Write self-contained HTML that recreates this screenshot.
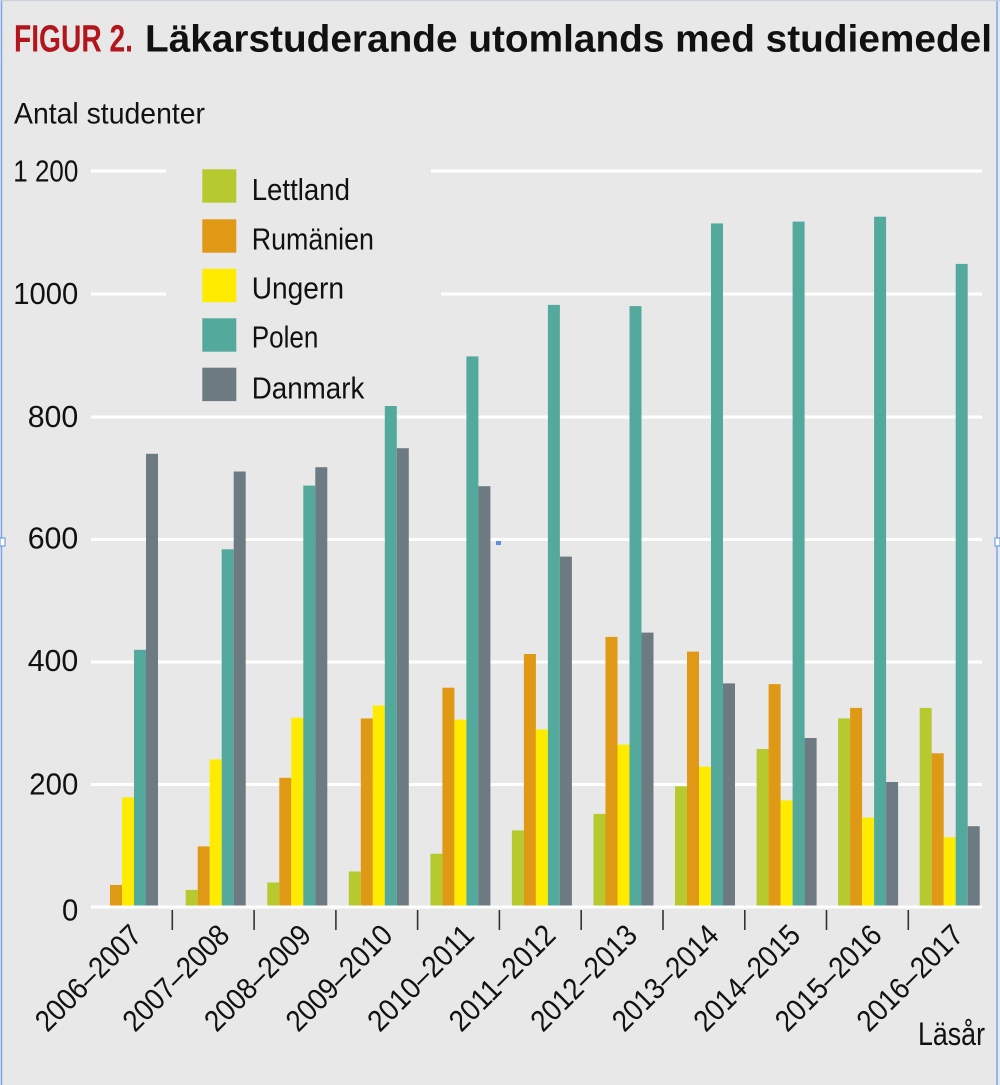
<!DOCTYPE html>
<html>
<head>
<meta charset="utf-8">
<style>
  html,body{margin:0;padding:0;background:#e8e8e8;}
  svg{display:block;}
  text{font-family:"Liberation Sans",sans-serif;fill:#111;}
</style>
</head>
<body>
<svg width="1000" height="1085" viewBox="0 0 1000 1085" xmlns="http://www.w3.org/2000/svg">
  <rect x="0" y="0" width="1000" height="1085" fill="#e8e8e8"/>

  <!-- selection frame -->
  <line x1="1.5" y1="0" x2="1.5" y2="1085" stroke="#7aa6ee" stroke-width="1.5"/>
  <line x1="997" y1="0" x2="997" y2="1085" stroke="#7aa6ee" stroke-width="1.5"/>
  <line x1="0" y1="0.7" x2="1000" y2="0.7" stroke="#c9cfda" stroke-width="1.2"/>
  <rect x="0" y="538" width="5" height="8" fill="#fff" stroke="#5b8fe6" stroke-width="1"/>
  <rect x="995" y="538" width="5" height="8" fill="#fff" stroke="#5b8fe6" stroke-width="1"/>
  <rect x="496" y="540" width="5" height="5" fill="#5b8fe6"/>

  <!-- title -->
  <text x="14" y="51.7" font-size="38" font-weight="bold" style="fill:#b3151d" textLength="119" lengthAdjust="spacingAndGlyphs">FIGUR 2.</text>
  <text x="145" y="51.7" font-size="38" font-weight="bold" textLength="847" lengthAdjust="spacingAndGlyphs">Läkarstuderande utomlands med studiemedel</text>

  <text x="14" y="123.3" font-size="30" textLength="191" lengthAdjust="spacingAndGlyphs">Antal studenter</text>

  <!-- gridlines -->
  <g stroke="#ffffff" stroke-width="3">
    <line x1="91" y1="171" x2="166" y2="171"/>
    <line x1="431" y1="171" x2="982" y2="171"/>
    <line x1="91" y1="294" x2="166" y2="294"/>
    <line x1="441" y1="294" x2="982" y2="294"/>
    <line x1="91" y1="417" x2="982" y2="417"/>
    <line x1="91" y1="539.5" x2="982" y2="539.5"/>
    <line x1="91" y1="662" x2="982" y2="662"/>
    <line x1="91" y1="784.5" x2="982" y2="784.5"/>
  </g>

  <!-- y labels -->
  <g font-size="31" text-anchor="end">
    <text x="78.3" y="181.7" textLength="65" lengthAdjust="spacingAndGlyphs">1 200</text>
    <text x="78.3" y="304" textLength="65" lengthAdjust="spacingAndGlyphs">1000</text>
    <text x="78.3" y="427" textLength="50.6" lengthAdjust="spacingAndGlyphs">800</text>
    <text x="78.3" y="548.3" textLength="50.6" lengthAdjust="spacingAndGlyphs">600</text>
    <text x="78.3" y="671" textLength="50.6" lengthAdjust="spacingAndGlyphs">400</text>
    <text x="78.3" y="794.5" textLength="49" lengthAdjust="spacingAndGlyphs">200</text>
    <text x="78.3" y="920.7" textLength="16.3" lengthAdjust="spacingAndGlyphs">0</text>
  </g>

  <!-- legend -->
  <g>
    <rect x="202.3" y="169.3" width="34" height="33.4" fill="#b6c92f"/>
    <rect x="202.3" y="219.3" width="34" height="33.4" fill="#e09914"/>
    <rect x="202.3" y="268.8" width="34" height="33.4" fill="#feeb00"/>
    <rect x="202.3" y="318.3" width="34" height="33.4" fill="#53a99c"/>
    <rect x="202.3" y="367.7" width="34" height="33.4" fill="#6e7a81"/>
    <g font-size="31">
      <text x="251.7" y="200" textLength="98.3" lengthAdjust="spacingAndGlyphs">Lettland</text>
      <text x="251.7" y="249.3" textLength="122.3" lengthAdjust="spacingAndGlyphs">Rumänien</text>
      <text x="251.7" y="298.5" textLength="92.3" lengthAdjust="spacingAndGlyphs">Ungern</text>
      <text x="251.7" y="347.5" textLength="66.7" lengthAdjust="spacingAndGlyphs">Polen</text>
      <text x="251.7" y="398.3" textLength="112.7" lengthAdjust="spacingAndGlyphs">Danmark</text>
    </g>
  </g>

  <!-- bars -->
  <g>
    <!-- g1 -->
    <g transform="translate(98,0)">
      <rect x="12" y="885" width="12" height="21" fill="#e09914"/>
      <rect x="24" y="797.4" width="12" height="108.6" fill="#feeb00"/>
      <rect x="36" y="649.8" width="12" height="256.2" fill="#53a99c"/>
      <rect x="48" y="453.8" width="12" height="452.2" fill="#6e7a81"/>
    </g>
    <!-- g2 -->
    <g transform="translate(185.7,0)">
      <rect x="0" y="889.9" width="12" height="16.1" fill="#b6c92f"/>
      <rect x="12" y="846.4" width="12" height="59.6" fill="#e09914"/>
      <rect x="24" y="759.4" width="12" height="146.6" fill="#feeb00"/>
      <rect x="36" y="549.3" width="12" height="356.7" fill="#53a99c"/>
      <rect x="48" y="471.5" width="12" height="434.5" fill="#6e7a81"/>
    </g>
    <!-- g3 -->
    <g transform="translate(267.3,0)">
      <rect x="0" y="882.5" width="12" height="23.5" fill="#b6c92f"/>
      <rect x="12" y="777.8" width="12" height="128.2" fill="#e09914"/>
      <rect x="24" y="717.7" width="12" height="188.3" fill="#feeb00"/>
      <rect x="36" y="485.6" width="12" height="420.4" fill="#53a99c"/>
      <rect x="48" y="467.2" width="12" height="438.8" fill="#6e7a81"/>
    </g>
    <!-- g4 -->
    <g transform="translate(348.8,0)">
      <rect x="0" y="871.5" width="12" height="34.5" fill="#b6c92f"/>
      <rect x="12" y="718.4" width="12" height="187.6" fill="#e09914"/>
      <rect x="24" y="705.5" width="12" height="200.5" fill="#feeb00"/>
      <rect x="36" y="406" width="12" height="500" fill="#53a99c"/>
      <rect x="48" y="448.2" width="12" height="457.8" fill="#6e7a81"/>
    </g>
    <!-- g5 -->
    <g transform="translate(430.4,0)">
      <rect x="0" y="853.7" width="12" height="52.3" fill="#b6c92f"/>
      <rect x="12" y="687.7" width="12" height="218.3" fill="#e09914"/>
      <rect x="24" y="719.6" width="12" height="186.4" fill="#feeb00"/>
      <rect x="36" y="356.4" width="12" height="549.6" fill="#53a99c"/>
      <rect x="48" y="486.2" width="12" height="419.8" fill="#6e7a81"/>
    </g>
    <!-- g6 -->
    <g transform="translate(511.9,0)">
      <rect x="0" y="830.4" width="12" height="75.6" fill="#b6c92f"/>
      <rect x="12" y="654" width="12" height="252" fill="#e09914"/>
      <rect x="24" y="729.4" width="12" height="176.6" fill="#feeb00"/>
      <rect x="36" y="304.9" width="12" height="601.1" fill="#53a99c"/>
      <rect x="48" y="556.6" width="12" height="349.4" fill="#6e7a81"/>
    </g>
    <!-- g7 -->
    <g transform="translate(593.5,0)">
      <rect x="0" y="813.9" width="12" height="92.1" fill="#b6c92f"/>
      <rect x="12" y="636.9" width="12" height="269.1" fill="#e09914"/>
      <rect x="24" y="744.7" width="12" height="161.3" fill="#feeb00"/>
      <rect x="36" y="306.1" width="12" height="599.9" fill="#53a99c"/>
      <rect x="48" y="632.6" width="12" height="273.4" fill="#6e7a81"/>
    </g>
    <!-- g8 -->
    <g transform="translate(675,0)">
      <rect x="0" y="786.3" width="12" height="119.7" fill="#b6c92f"/>
      <rect x="12" y="651.6" width="12" height="254.4" fill="#e09914"/>
      <rect x="24" y="766.7" width="12" height="139.3" fill="#feeb00"/>
      <rect x="36" y="223.4" width="12" height="682.6" fill="#53a99c"/>
      <rect x="48" y="683.4" width="12" height="222.6" fill="#6e7a81"/>
    </g>
    <!-- g9 -->
    <g transform="translate(756.6,0)">
      <rect x="0" y="749" width="12" height="157" fill="#b6c92f"/>
      <rect x="12" y="684.1" width="12" height="221.9" fill="#e09914"/>
      <rect x="24" y="800.4" width="12" height="105.6" fill="#feeb00"/>
      <rect x="36" y="221.6" width="12" height="684.4" fill="#53a99c"/>
      <rect x="48" y="738" width="12" height="168" fill="#6e7a81"/>
    </g>
    <!-- g10 -->
    <g transform="translate(838.1,0)">
      <rect x="0" y="718.4" width="12" height="187.6" fill="#b6c92f"/>
      <rect x="12" y="707.9" width="12" height="198.1" fill="#e09914"/>
      <rect x="24" y="817.6" width="12" height="88.4" fill="#feeb00"/>
      <rect x="36" y="216.7" width="12" height="689.3" fill="#53a99c"/>
      <rect x="48" y="782" width="12" height="124" fill="#6e7a81"/>
    </g>
    <!-- g11 -->
    <g transform="translate(919.7,0)">
      <rect x="0" y="707.9" width="12" height="198.1" fill="#b6c92f"/>
      <rect x="12" y="753.3" width="12" height="152.7" fill="#e09914"/>
      <rect x="24" y="837.2" width="12" height="68.8" fill="#feeb00"/>
      <rect x="36" y="263.9" width="12" height="642.1" fill="#53a99c"/>
      <rect x="48" y="826.2" width="12" height="79.8" fill="#6e7a81"/>
    </g>
  </g>

  <!-- zero line -->
  <line x1="91" y1="907" x2="982" y2="907" stroke="#ffffff" stroke-width="3"/>

  <!-- ticks -->
  <g stroke="#333" stroke-width="1.6">
    <line x1="172.3" y1="910" x2="172.3" y2="930"/>
    <line x1="254.1" y1="910" x2="254.1" y2="930"/>
    <line x1="335.9" y1="910" x2="335.9" y2="930"/>
    <line x1="417.6" y1="910" x2="417.6" y2="930"/>
    <line x1="499.4" y1="910" x2="499.4" y2="930"/>
    <line x1="581.2" y1="910" x2="581.2" y2="930"/>
    <line x1="663" y1="910" x2="663" y2="930"/>
    <line x1="744.8" y1="910" x2="744.8" y2="930"/>
    <line x1="826.5" y1="910" x2="826.5" y2="930"/>
    <line x1="908.3" y1="910" x2="908.3" y2="930"/>
  </g>

  <!-- x labels -->
  <g font-size="30" text-anchor="end">
    <text transform="translate(143.5,937) rotate(-45)" textLength="136" lengthAdjust="spacingAndGlyphs">2006–2007</text>
    <text transform="translate(231.2,937) rotate(-45)" textLength="136" lengthAdjust="spacingAndGlyphs">2007–2008</text>
    <text transform="translate(312.8,937) rotate(-45)" textLength="136" lengthAdjust="spacingAndGlyphs">2008–2009</text>
    <text transform="translate(394.3,937) rotate(-45)" textLength="136" lengthAdjust="spacingAndGlyphs">2009–2010</text>
    <text transform="translate(475.9,937) rotate(-45)" textLength="136" lengthAdjust="spacingAndGlyphs">2010–2011</text>
    <text transform="translate(557.4,937) rotate(-45)" textLength="136" lengthAdjust="spacingAndGlyphs">2011–2012</text>
    <text transform="translate(639,937) rotate(-45)" textLength="136" lengthAdjust="spacingAndGlyphs">2012–2013</text>
    <text transform="translate(720.5,937) rotate(-45)" textLength="136" lengthAdjust="spacingAndGlyphs">2013–2014</text>
    <text transform="translate(802.1,937) rotate(-45)" textLength="136" lengthAdjust="spacingAndGlyphs">2014–2015</text>
    <text transform="translate(883.6,937) rotate(-45)" textLength="136" lengthAdjust="spacingAndGlyphs">2015–2016</text>
    <text transform="translate(965.2,937) rotate(-45)" textLength="136" lengthAdjust="spacingAndGlyphs">2016–2017</text>
  </g>

  <text x="985" y="1045" font-size="32" text-anchor="end" textLength="67" lengthAdjust="spacingAndGlyphs">Läsår</text>
</svg>
</body>
</html>
